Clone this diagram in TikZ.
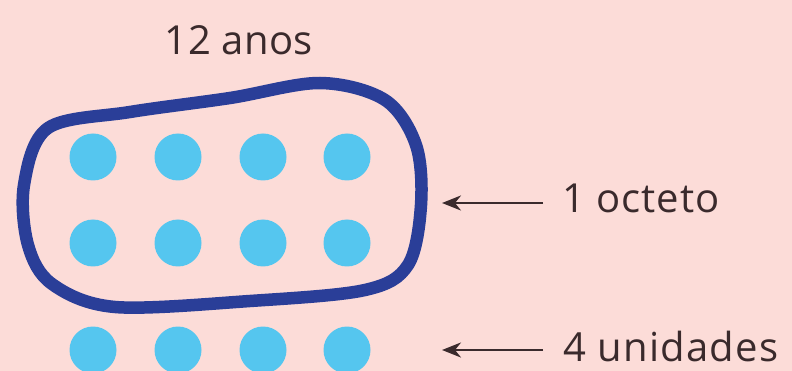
\documentclass[tikz,border=0pt]{standalone}
\usepackage{fontspec}
\setmainfont{Open Sans}
\usetikzlibrary{arrows.meta}
\definecolor{bgpink}{HTML}{FCDCD8}
\definecolor{dotblue}{HTML}{55C6EF}
\definecolor{ringblue}{HTML}{2A3E98}
\definecolor{inkdark}{HTML}{3A2A2C}
\tikzset{
  x=1pt, y=-1pt,
  dot/.style={circle, fill=dotblue, draw=none, minimum size=47pt, inner sep=0pt},
  lbl/.style={text=inkdark, inner sep=0pt, font=\fontsize{40}{42}\selectfont},
  pointer/.style={draw=inkdark, line width=2.2pt, -{Stealth[length=19pt,width=15pt,inset=6pt]}},
  ring/.style={draw=ringblue, line width=12.5pt, line join=round}
}
\begin{document}
\begin{tikzpicture}
\fill[bgpink] (0,0) rectangle (792,371);
\useasboundingbox (0,0) rectangle (792,371);
% dots
\foreach \r/\yy in {1/157, 2/243, 3/350}{
  \foreach \c/\xx in {1/93, 2/178, 3/263, 4/347}{
    \node[dot] (d\r\c) at (\xx,\yy) {};
  }
}
% ring around the octet
\draw[ring] plot[smooth cycle, tension=0.55] coordinates {
  (48,128) (130,112) (230,98) (320,83) (385,100) (416,145) (421,205)
  (408,265) (365,290) (250,301) (115,307) (52,284) (28,245) (24,185)
};
% labels
\node[lbl, anchor=base] (title) at (239,55) {\addfontfeature{LetterSpace=1}12 anos};
\node[lbl, anchor=base west] (oct) at (562,213) {\addfontfeature{LetterSpace=2.5}1 octeto};
\node[lbl, anchor=base west] (uni) at (563,361) {\addfontfeature{LetterSpace=3}4 unidades};
% arrows
\coordinate (octtail) at (543,203);
\coordinate (octtip) at (442,203);
\coordinate (unitail) at (543,350);
\coordinate (unitip) at (442,350);
\draw[pointer] (octtail) -- (octtip);
\draw[pointer] (unitail) -- (unitip);
\end{tikzpicture}
\end{document}
